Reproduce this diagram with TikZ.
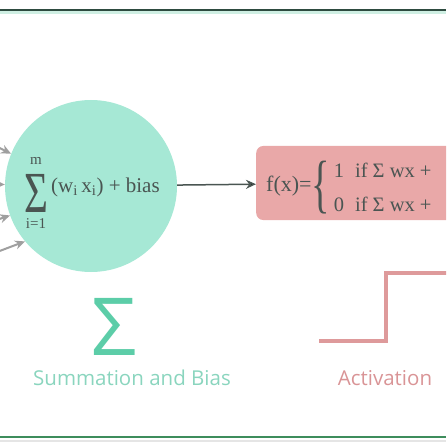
\documentclass[tikz,border=0pt]{standalone}
\usepackage{graphicx}
\usepackage{fontspec}
\setmainfont{Liberation Serif}
\setsansfont{Open Sans}
\usetikzlibrary{positioning, arrows.meta}

\definecolor{mintfill}{HTML}{A6E8D5}
\definecolor{mintdark}{HTML}{5CCDA8}
\definecolor{mintlabel}{HTML}{8AD5BE}
\definecolor{pinkfill}{HTML}{E9A8A8}
\definecolor{pinkline}{HTML}{DE9A9B}
\definecolor{pinklabel}{HTML}{D99496}
\definecolor{inkgray}{HTML}{4A5552}
\definecolor{framedark}{HTML}{2E4B40}
\definecolor{framegreen}{HTML}{3E8D5C}
\definecolor{framelight}{HTML}{CFEFE3}

\begin{document}
\begin{tikzpicture}[x=1pt, y=-1pt, >={Stealth[length=10pt, width=9pt]},
    every node/.style={inner sep=0pt, text=inkgray},
    neuron/.style={circle, fill=mintfill, minimum size=172pt},
    actbox/.style={rectangle, rounded corners=7pt, fill=pinkfill,
        minimum height=74pt, minimum width=220pt},
    formula/.style={font=\fontsize{22}{26}\selectfont},
    limit/.style={font=\fontsize{15}{15}\selectfont},
    input/.style={->, line width=2pt, draw=gray!75},
    caption/.style={font=\sffamily\fontsize{20.5}{24}\selectfont}]
    \useasboundingbox (0,0) rectangle (446,446);
    \clip (0,0) rectangle (446,446);

    % frame lines
    \draw[line width=3pt, framelight] (0,13) -- (446,13);
    \draw[line width=1.6pt, framedark] (0,10) -- (446,10);
    \draw[line width=2pt, black!10] (0,441) -- (446,441);
    \draw[line width=1.6pt, framegreen] (0,437) -- (446,437);

    % summation node
    \node[neuron] (sum) at (91,186) {};
    \node (sumsign) at (36,193) {\scalebox{0.72}[1.02]{\fontsize{57}{57}\selectfont Σ}};
    \node[limit, above=9pt of sumsign] (upper) {m};
    \node[limit, below=6pt of sumsign] (lower) {i=1};
    \node[formula, anchor=west, font=\fontsize{21}{25}\selectfont] (terms) at (51,187)
        {(w\textsubscript{i}\,x\textsubscript{i}) + bias};

    % activation box
    \node[actbox, anchor=west] (act) at (256,183) {};
    \node[formula, anchor=west] (fx) at (266,186) {f(x)=};
    \node[right=0pt of fx, yshift=-2pt] (brace) {\scalebox{0.6}[1]{\fontsize{64}{64}\selectfont\{}};
    \node[formula, font=\fontsize{20.5}{24}\selectfont, right=3pt of brace] (cases)
        {\renewcommand{\arraystretch}{1.4}\begin{tabular}{@{}l@{\hspace{11pt}}l@{}}
            1 & if Σ wx + \\
            0 & if Σ wx + \end{tabular}};

    % inputs from the left
    \coordinate (in1) at (-40,128);
    \coordinate (in2) at (-40,184);
    \coordinate (in3) at (-40,232);
    \coordinate (in4) at (-40,266);
    \draw[input] (in1) -- (sum.158);
    \draw[input] (in2) -- (sum.179);
    \draw[input] (in3) -- (sum.200);
    \draw[input] (in4) -- (sum.220);

    \path[->, line width=1.5pt, draw=inkgray]
        (sum) edge (act);

    % summation and bias
    \node[text=mintdark, font=\sffamily\fontsize{80}{80}\selectfont] (sig) at (114,327) {Σ};
    \node[caption, text=mintlabel] (sumlabel) at (132,378) {Summation and Bias};

    % activation step
    \coordinate (s0) at (319,341);
    \coordinate (s1) at (386,341);
    \coordinate (s2) at (386,273);
    \coordinate (s3) at (450,273);
    \draw[pinkline, line width=4pt] (s0) -- (s1) -- (s2) -- (s3);
    \node[caption, text=pinklabel] (actlabel) at (385,378) {Activation};
\end{tikzpicture}
\end{document}
